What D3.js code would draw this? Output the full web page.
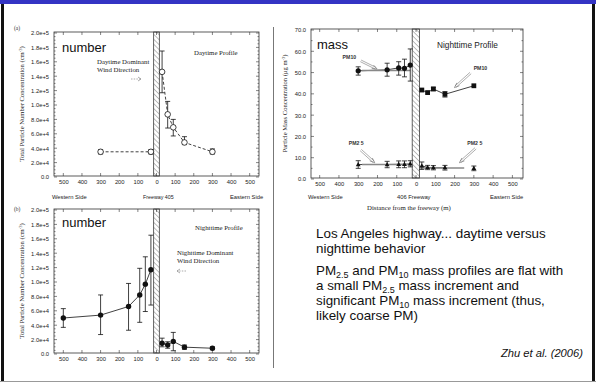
<!DOCTYPE html>
<html><head><meta charset="utf-8">
<script src="https://cdn.jsdelivr.net/npm/d3@7/dist/d3.min.js"></script>
<style>
body{margin:0;background:#fff;}
svg{display:block;}
</style></head>
<body>
<svg id="c" width="596" height="385"></svg>
<script>
// ---------- DATA ----------
const xTicks = [-500,-400,-300,-200,-100,0,100,200,300,400,500];
const xTickLabels = ["500","400","300","200","100","0","100","200","300","400","500"];
const numTicks = [0,2e4,4e4,6e4,8e4,1e5,1.2e5,1.4e5,1.6e5,1.8e5,2e5];
const numTickLabels = ["0.0","2.0e+4","4.0e+4","6.0e+4","8.0e+4","1.0e+5","1.2e+5","1.4e+5","1.6e+5","1.8e+5","2.0e+5"];
const massTicks = [0,10,20,30,40,50,60,70];
const massTickLabels = ["0.0","10.0","20.0","30.0","40.0","50.0","60.0","70.0"];

// (a) daytime number concentration
const dayX  = [-300,-30,30,60,90,150,300];
const dayY  = [35000,35000,146000,87000,69000,48000,35000];
const dayLo = [32000,32000,117000,68000,57000,45000,32000];
const dayHi = [38000,38000,175000,105000,80000,56000,39000];

// (b) nighttime number concentration
const nightX  = [-500,-300,-150,-90,-60,-30,30,60,90,150,300];
const nightY  = [50000,54000,66000,82000,97000,117000,15000,12500,17500,9500,8000];
const nightLo = [37000,27000,33000,44000,59000,68000,10000,8000,4500,6500,6000];
const nightHi = [63000,82000,98000,119000,135000,165000,22000,17000,30000,12500,10000];

// (c) nighttime mass
const pm10X  = [-300,-150,-90,-60,-30,30,60,90,150,300];
const pm10Y  = [50.8,51.3,52.2,52.0,53.5,41.8,40.6,42.3,39.8,43.8];
const pm10Lo = [48.8,48.3,48.8,48.0,46.0,41.8,40.6,41.5,38.5,43.8];
const pm10Hi = [52.7,54.4,55.1,56.3,61.1,41.8,40.6,43.1,41.1,43.8];
const pm25X  = [-300,-150,-90,-60,-30,30,60,90,150,300];
const pm25Y  = [6.8,6.8,6.9,6.9,7.1,6.2,5.4,5.3,5.3,5.0];
const pm25Lo = [5.0,5.3,5.3,5.3,5.7,4.5,4.4,4.3,4.2,3.9];
const pm25Hi = [8.6,8.3,8.5,8.5,8.6,8.0,6.4,6.3,6.4,6.1];
const massFits = [
  {x0:-280,x1:-30,y:51.0},
  {x0:-280,x1:-30,y:6.8},
  {x0:20,x1:250,y:5.2}
];
const massLabels = [
  {t:"PM10",  lx:-381, ly:57.5, ax0:-287, ay0:55.5, ax1:-209, ay1:52},
  {t:"PM10",  lx:299,  ly:52, ax0:283,  ay0:49.8, ax1:205, ay1:43.4},
  {t:"PM2 5", lx:-349, ly:17, ax0:-287, ay0:13.6, ax1:-220, ay1:8.1},
  {t:"PM2 5", lx:266,  ly:17, ax0:309,  ay0:14.4, ax1:231, ay1:8.1}
];

// ---------- DRAW ----------
const svg = d3.select("#c");
// slide frame
svg.append("rect").attr("x",0).attr("y",0).attr("width",596).attr("height",4).attr("fill","#3434c4");
svg.append("rect").attr("x",1).attr("y",4).attr("width",3).attr("height",377).attr("fill","#111");
svg.append("rect").attr("x",592).attr("y",4).attr("width",3).attr("height",377).attr("fill","#111");
svg.append("line").attr("x1",0).attr("x2",596).attr("y1",381.5).attr("y2",381.5).attr("stroke","#999").attr("stroke-width",1);
svg.append("line").attr("x1",273.5).attr("x2",273.5).attr("y1",27).attr("y2",368).attr("stroke","#777").attr("stroke-width",1);

const defs = svg.append("defs");
const pat = defs.append("pattern").attr("id","hatch").attr("patternUnits","userSpaceOnUse")
  .attr("width",3.5).attr("height",3.5).attr("patternTransform","rotate(-45)");
pat.append("line").attr("x1",0).attr("y1",0).attr("x2",0).attr("y2",3.5).attr("stroke","#444").attr("stroke-width",0.7);

const SANS = "Liberation Sans, Arial, sans-serif";
const SERIF = "Liberation Serif, Times New Roman, serif";

function panel(o){
  const x = d3.scaleLinear().domain(o.xd).range(o.xr);
  const y = d3.scaleLinear().domain(o.yd).range(o.yr);
  const g = svg.append("g");
  const [bx0,bx1] = o.xr, by0 = o.yr[1]-1, by1 = o.yr[0]-1;
  // hatched freeway
  g.append("rect").attr("x",x(o.fw[0])).attr("y",by0).attr("width",x(o.fw[1])-x(o.fw[0])).attr("height",by1-by0)
    .attr("fill","url(#hatch)").attr("stroke","#222").attr("stroke-width",0.7);
  // box
  g.append("rect").attr("x",bx0).attr("y",by0).attr("width",bx1-bx0).attr("height",by1-by0)
    .attr("fill","none").attr("stroke","#333").attr("stroke-width",0.8);
  // axes
  const xa = d3.axisBottom(x).tickValues(xTicks).tickFormat((d,i)=>xTickLabels[i]).tickSize(0).tickPadding(4);
  const ga = g.append("g").attr("transform",`translate(0,${by1})`).call(xa);
  ga.select(".domain").remove();
  ga.selectAll("text").attr("font-family",SANS).attr("font-size",5.8).attr("fill","#222");
  const ya = d3.axisLeft(y).tickValues(o.yt).tickFormat((d,i)=>o.ytl[i]).tickSize(0).tickPadding(5);
  const gy = g.append("g").attr("transform",`translate(${bx0},0)`).call(ya);
  gy.select(".domain").remove();
  gy.selectAll("text").attr("font-family",SANS).attr("font-size",5.8).attr("fill","#222");
  // inward ticks all sides
  const tk = g.append("g").attr("stroke","#333").attr("stroke-width",0.6);
  xTicks.forEach(v=>{
    tk.append("line").attr("x1",x(v)).attr("x2",x(v)).attr("y1",by1).attr("y2",by1-3);
    tk.append("line").attr("x1",x(v)).attr("x2",x(v)).attr("y1",by0).attr("y2",by0+3);
  });
  o.yt.forEach((v,i)=>{
    tk.append("line").attr("x1",bx0).attr("x2",bx0+3).attr("y1",y(v)).attr("y2",y(v));
    tk.append("line").attr("x1",bx1).attr("x2",bx1-3).attr("y1",y(v)).attr("y2",y(v));
    if(i<o.yt.length-1){
      const n = o.minor;
      for(let k=1;k<n;k++){
        const vv = v + (o.yt[i+1]-v)*k/n;
        tk.append("line").attr("x1",bx0).attr("x2",bx0+1.5).attr("y1",y(vv)).attr("y2",y(vv));
        tk.append("line").attr("x1",bx1).attr("x2",bx1-1.5).attr("y1",y(vv)).attr("y2",y(vv));
      }
    }
  });
  // y title
  g.append("text").attr("transform",`translate(${o.ytx},${(by0+by1)/2}) rotate(-90)`)
    .attr("text-anchor","middle").attr("font-family",SERIF).attr("font-size",6.6).attr("fill","#222")
    .html(o.ytitle);
  return {g,x,y};
}

function errorBars(p, xs, lo, hi){
  const eb = p.g.append("g").attr("stroke","#111").attr("stroke-width",0.8);
  xs.forEach((v,i)=>{
    if(hi[i]===lo[i]) return;
    const cx = p.x(v);
    eb.append("line").attr("x1",cx).attr("x2",cx).attr("y1",p.y(lo[i])).attr("y2",p.y(hi[i]));
    [lo[i],hi[i]].forEach(w=>eb.append("line").attr("x1",cx-2.5).attr("x2",cx+2.5).attr("y1",p.y(w)).attr("y2",p.y(w)));
  });
}
function seriesLine(p, xs, ys, dash){
  const west = xs.map((v,i)=>[v,ys[i]]).filter(d=>d[0]<0);
  const east = xs.map((v,i)=>[v,ys[i]]).filter(d=>d[0]>0);
  const ln = d3.line().x(d=>p.x(d[0])).y(d=>p.y(d[1]));
  [west,east].forEach(s=>{
    p.g.append("path").attr("d",ln(s)).attr("fill","none").attr("stroke","#111").attr("stroke-width",0.8)
      .attr("stroke-dasharray",dash||null);
  });
}
function arrowGlyph(g, x0, y0, x1, y1){
  g.append("line").attr("x1",x0).attr("y1",y0).attr("x2",x1).attr("y2",y1)
    .attr("stroke","#888").attr("stroke-width",0.7).attr("stroke-dasharray","1.5,1.2");
  const dir = Math.sign(x1-x0);
  g.append("path").attr("d",`M${x1-dir*3},${y1-2}L${x1},${y1}L${x1-dir*3},${y1+2}`)
    .attr("fill","none").attr("stroke","#888").attr("stroke-width",0.7);
}

// ---- (a) ----
const pa = panel({xd:[-550,550], xr:[54,259], yd:[0,2e5], yr:[177,33], fw:[-15,15],
  yt:numTicks, ytl:numTickLabels, minor:4, ytx:24,
  ytitle:"Total Particle Number Concentration (cm<tspan dy='-2' font-size='4.5'>-3</tspan><tspan dy='2'>)</tspan>"});
seriesLine(pa, dayX, dayY, "3,2");
errorBars(pa, dayX, dayLo, dayHi);
pa.g.selectAll("circle.d").data(dayX).join("circle").attr("cx",d=>pa.x(d)).attr("cy",(d,i)=>pa.y(dayY[i]))
  .attr("r",2.8).attr("fill","#fff").attr("stroke","#111").attr("stroke-width",0.8);
svg.append("text").attr("x",14).attr("y",30).attr("font-family",SERIF).attr("font-size",5.5).attr("fill","#333").text("(a)");
svg.append("text").attr("x",62).attr("y",52).attr("font-family",SANS).attr("font-size",13).attr("fill","#111").text("number");
svg.append("text").attr("x",97).attr("y",64).attr("font-family",SERIF).attr("font-size",6.8).attr("fill","#222").text("Daytime Dominant");
svg.append("text").attr("x",97).attr("y",72).attr("font-family",SERIF).attr("font-size",6.8).attr("fill","#222").text("Wind Direction");
arrowGlyph(svg, 131, 79, 141, 79);
svg.append("text").attr("x",194).attr("y",55).attr("font-family",SERIF).attr("font-size",6.8).attr("fill","#222").text("Daytime Profile");
svg.append("text").attr("x",52).attr("y",199).attr("font-family",SANS).attr("font-size",5.8).attr("fill","#222").text("Western Side");
svg.append("text").attr("x",143).attr("y",199).attr("font-family",SANS).attr("font-size",5.3).attr("fill","#222").text("Freeway 405");
svg.append("text").attr("x",230).attr("y",199).attr("font-family",SANS).attr("font-size",5.8).attr("fill","#222").text("Eastern Side");

// ---- (b) ----
const pb = panel({xd:[-550,550], xr:[54,259], yd:[0,2e5], yr:[354,210], fw:[-15,15],
  yt:numTicks, ytl:numTickLabels, minor:4, ytx:24,
  ytitle:"Total Particle Number Concentration (cm<tspan dy='-2' font-size='4.5'>-3</tspan><tspan dy='2'>)</tspan>"});
seriesLine(pb, nightX, nightY, null);
errorBars(pb, nightX, nightLo, nightHi);
pb.g.selectAll("circle.n").data(nightX).join("circle").attr("cx",d=>pb.x(d)).attr("cy",(d,i)=>pb.y(nightY[i]))
  .attr("r",2.7).attr("fill","#111");
svg.append("text").attr("x",14).attr("y",211).attr("font-family",SERIF).attr("font-size",5.5).attr("fill","#333").text("(b)");
svg.append("text").attr("x",62).attr("y",227).attr("font-family",SANS).attr("font-size",13).attr("fill","#111").text("number");
svg.append("text").attr("x",195).attr("y",230).attr("font-family",SERIF).attr("font-size",6.8).attr("fill","#222").text("Nighttime Profile");
svg.append("text").attr("x",177).attr("y",255).attr("font-family",SERIF).attr("font-size",6.8).attr("fill","#222").text("Nighttime Dominant");
svg.append("text").attr("x",177).attr("y",263).attr("font-family",SERIF).attr("font-size",6.8).attr("fill","#222").text("Wind Direction");
arrowGlyph(svg, 186, 271, 177, 271);

// ---- (c) ----
const pc = panel({xd:[-545,555], xr:[311,523], yd:[0,70], yr:[179,30], fw:[-20,18],
  yt:massTicks, ytl:massTickLabels, minor:2, ytx:287,
  ytitle:"Particle Mass Concentration (μg m<tspan dy='-2' font-size='4.5'>-3</tspan><tspan dy='2'>)</tspan>"});
seriesLine(pc, pm10X, pm10Y, null);
seriesLine(pc, pm25X.filter(v=>v<300), pm25Y.filter((v,i)=>pm25X[i]<300), null);
pc.g.selectAll("line.fit").data(massFits).join("line").attr("x1",d=>pc.x(d.x0)).attr("x2",d=>pc.x(d.x1))
  .attr("y1",d=>pc.y(d.y)).attr("y2",d=>pc.y(d.y)).attr("stroke","#888").attr("stroke-width",1.6);
errorBars(pc, pm10X, pm10Lo, pm10Hi);
errorBars(pc, pm25X, pm25Lo, pm25Hi);
pm10X.forEach((v,i)=>{
  if(v<0) pc.g.append("circle").attr("cx",pc.x(v)).attr("cy",pc.y(pm10Y[i])).attr("r",2.6).attr("fill","#111");
  else pc.g.append("rect").attr("x",pc.x(v)-2.4).attr("y",pc.y(pm10Y[i])-2.4).attr("width",4.8).attr("height",4.8).attr("fill","#111");
});
pm25X.forEach((v,i)=>{
  const cx=pc.x(v), cy=pc.y(pm25Y[i]);
  pc.g.append("path").attr("d",`M${cx},${cy-2.6}L${cx+2.4},${cy+1.6}L${cx-2.4},${cy+1.6}Z`).attr("fill","#111");
});
massLabels.forEach(d=>{
  pc.g.append("text").attr("x",pc.x(d.lx)).attr("y",pc.y(d.ly)+2).attr("font-family",SANS).attr("font-size",5.2)
    .attr("font-weight","bold").attr("fill","#333").text(d.t);
  const x0=pc.x(d.ax0), y0=pc.y(d.ay0), x1=pc.x(d.ax1), y1=pc.y(d.ay1);
  const ang = Math.atan2(y1-y0,x1-x0), nx=-Math.sin(ang), ny=Math.cos(ang);
  [-0.9,0.9].forEach(s=>pc.g.append("line").attr("x1",x0+nx*s).attr("y1",y0+ny*s).attr("x2",x1+nx*s).attr("y2",y1+ny*s)
    .attr("stroke","#777").attr("stroke-width",0.6));
  const L=4, w=0.5;
  pc.g.append("path").attr("d",`M${x1-L*Math.cos(ang-w)},${y1-L*Math.sin(ang-w)}L${x1+Math.cos(ang)*1.5},${y1+Math.sin(ang)*1.5}L${x1-L*Math.cos(ang+w)},${y1-L*Math.sin(ang+w)}`)
    .attr("fill","none").attr("stroke","#777").attr("stroke-width",0.7);
});
svg.append("text").attr("x",317).attr("y",49).attr("font-family",SANS).attr("font-size",13).attr("fill","#111").text("mass");
svg.append("text").attr("x",437).attr("y",48).attr("font-family",SANS).attr("font-size",8.3).attr("fill","#222").text("Nighttime Profile");
svg.append("text").attr("x",308).attr("y",199).attr("font-family",SANS).attr("font-size",5.8).attr("fill","#222").text("Western Side");
svg.append("text").attr("x",397).attr("y",199).attr("font-family",SANS).attr("font-size",5.8).attr("fill","#222").text("406 Freeway");
svg.append("text").attr("x",490).attr("y",199).attr("font-family",SANS).attr("font-size",5.8).attr("fill","#222").text("Eastern Side");
svg.append("text").attr("x",367).attr("y",210).attr("font-family",SERIF).attr("font-size",6.8).attr("fill","#222").text("Distance from the freeway (m)");

// ---- text block ----
const tb = svg.append("g").attr("font-family",SANS).attr("font-size",13.4).attr("fill","#111");
const lines = [
  {y:238, h:"Los Angeles highway... daytime versus"},
  {y:253, h:"nighttime behavior"},
  {y:275, h:"PM<tspan font-size='9' dy='2.5'>2.5</tspan><tspan dy='-2.5'> and PM</tspan><tspan font-size='9' dy='2.5'>10</tspan><tspan dy='-2.5'> mass profiles are flat with</tspan>"},
  {y:290, h:"a small PM<tspan font-size='9' dy='2.5'>2.5</tspan><tspan dy='-2.5'> mass increment and</tspan>"},
  {y:305, h:"significant PM<tspan font-size='9' dy='2.5'>10</tspan><tspan dy='-2.5'> mass increment (thus,</tspan>"},
  {y:320, h:"likely coarse PM)"}
];
lines.forEach(l=>tb.append("text").attr("x",316).attr("y",l.y).html(l.h));
svg.append("text").attr("x",583).attr("y",357).attr("text-anchor","end").attr("font-family",SANS)
  .attr("font-size",11.2).attr("font-style","italic").attr("fill","#111").text("Zhu et al. (2006)");
</script>
</body></html>
